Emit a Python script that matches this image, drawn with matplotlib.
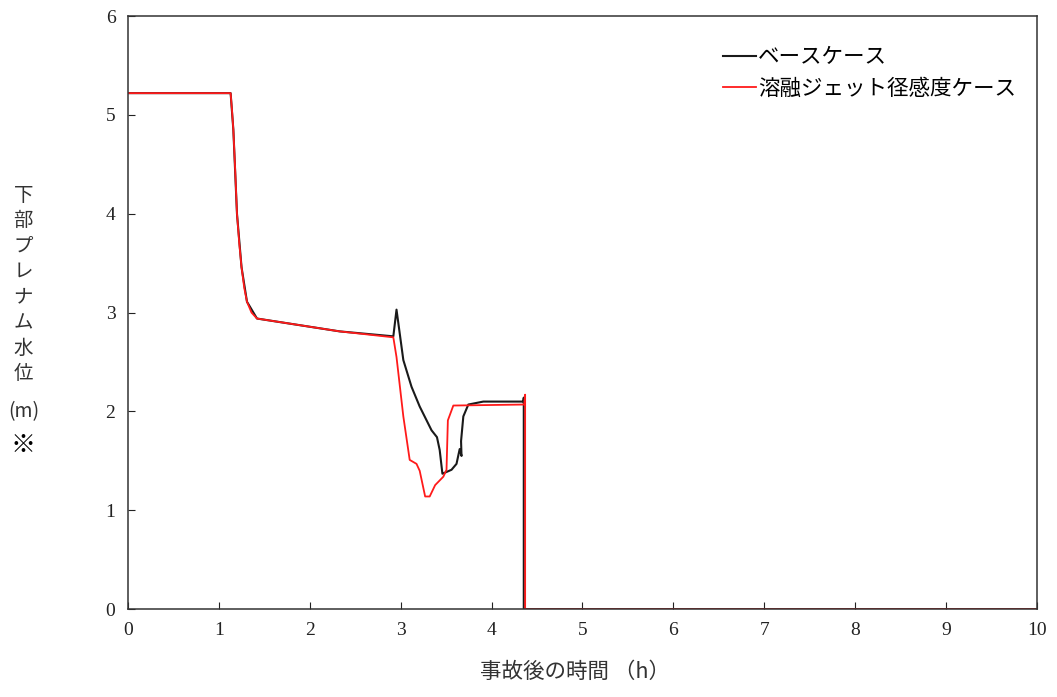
import matplotlib
matplotlib.use("Agg")
import matplotlib.pyplot as plt

# lower plenum water level (m) vs time after accident (h)
time_base = [0, 1.13, 1.16, 1.20, 1.25, 1.31, 1.42, 2.33, 2.92, 2.955, 3.03, 3.12,
             3.21, 3.34, 3.40, 3.43, 3.46, 3.56, 3.615, 3.65, 3.67, 3.665, 3.69,
             3.745, 3.91, 4.35, 4.355, 4.355, 10]
level_base = [5.22, 5.22, 4.85, 4.0, 3.46, 3.11, 2.94, 2.81, 2.76, 3.03, 2.52, 2.25,
              2.05, 1.81, 1.74, 1.61, 1.37, 1.41, 1.47, 1.62, 1.55, 1.70, 1.95,
              2.07, 2.10, 2.10, 2.14, 0, 0]

time_jet = [0, 1.13, 1.145, 1.16, 1.18, 1.20, 1.225, 1.25, 1.28, 1.31, 1.36, 1.42,
            2.33, 2.92, 2.955, 3.03, 3.10, 3.175, 3.21, 3.27, 3.32, 3.38, 3.47,
            3.505, 3.52, 3.58, 4.36, 4.37, 4.37, 10]
level_jet = [5.22, 5.22, 5.05, 4.85, 4.45, 4.0, 3.7, 3.46, 3.25, 3.11, 3.0, 2.94,
             2.81, 2.75, 2.55, 1.95, 1.51, 1.47, 1.40, 1.14, 1.14, 1.255, 1.34,
             1.41, 1.91, 2.06, 2.07, 2.17, 0, 0]

series_names = ["ベースケース", "溶融ジェット径感度ケース"]
ylabel_chars = ["下", "部", "プ", "レ", "ナ", "ム", "水", "位"]

plt.rcParams['font.family'] = ['Liberation Serif', 'Noto Sans CJK JP', 'DejaVu Sans']
jp = ['Noto Sans CJK JP', 'DejaVu Sans']

fig = plt.figure(figsize=(10.57, 6.97), dpi=100)
ax = fig.add_axes([0.121, 0.126, 0.860, 0.851])

ax.plot(time_base, level_base, color='#1a1a1a', lw=1.5, label=series_names[0])
ax.plot(time_jet, level_jet, color='#ff1a1a', lw=1.3, label=series_names[1])

ax.set_xlim(0, 10)
ax.set_ylim(0, 6)
ax.set_xticks(range(0, 11))
ax.set_yticks(range(0, 7))
ax.tick_params(direction='in', length=5, labelsize=14, pad=9, colors='#222222')
for s in ax.spines.values():
    s.set_color('#333333')
    s.set_linewidth(1.1)

leg = ax.legend(loc='upper right', bbox_to_anchor=(0.998, 0.982), frameon=False,
                prop={'family': jp, 'size': 15.5}, handlelength=1.5,
                handletextpad=0.1, labelspacing=0.45)

# stacked vertical y label
fig.text(0.022, 0.735, "\n".join(ylabel_chars), family=jp, fontsize=14,
         ha='center', va='top', linespacing=1.28, color='#333333')
fig.text(0.023, 0.41, "(m)", family=jp, fontsize=14, ha='center', va='center',
         color='#333333')
fig.text(0.022, 0.362, "※", family=jp, fontsize=18, ha='center', va='center')

fig.text(0.544, 0.02, "事故後の時間 （h）", family=jp, fontsize=15.5, ha='center',
         va='bottom', color='#333333')

fig.savefig("out.png", dpi=100)
